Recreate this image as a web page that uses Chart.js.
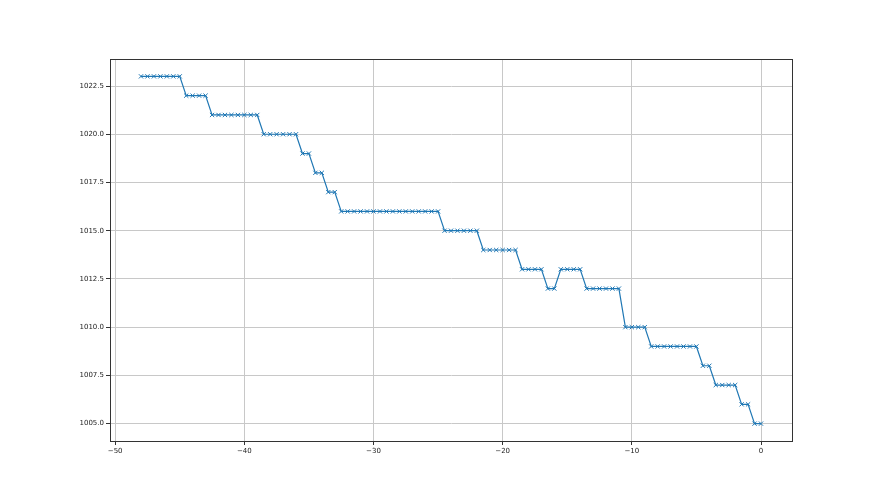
<!DOCTYPE html>
<html>
<head>
<meta charset="utf-8">
<script src="https://cdn.jsdelivr.net/npm/chart.js@4"></script>
<style>
  body { margin: 0; background: #fff; }
  canvas { display: block; }
</style>
</head>
<body>
<canvas id="pressureChart" width="880" height="495"></canvas>
<script>
// hours relative to now
const hours = [-48, -47.5, -47, -46.5, -46, -45.5, -45, -44.5, -44, -43.5, -43, -42.5, -42, -41.5, -41, -40.5,
  -40, -39.5, -39, -38.5, -38, -37.5, -37, -36.5, -36, -35.5, -35, -34.5, -34, -33.5, -33, -32.5,
  -32, -31.5, -31, -30.5, -30, -29.5, -29, -28.5, -28, -27.5, -27, -26.5, -26, -25.5, -25, -24.5,
  -24, -23.5, -23, -22.5, -22, -21.5, -21, -20.5, -20, -19.5, -19, -18.5, -18, -17.5, -17, -16.5,
  -16, -15.5, -15, -14.5, -14, -13.5, -13, -12.5, -12, -11.5, -11, -10.5, -10, -9.5, -9, -8.5,
  -8, -7.5, -7, -6.5, -6, -5.5, -5, -4.5, -4, -3.5, -3, -2.5, -2, -1.5, -1, -0.5, 0];

const pressure = [1023, 1023, 1023, 1023, 1023, 1023, 1023,
  1022, 1022, 1022, 1022,
  1021, 1021, 1021, 1021, 1021, 1021, 1021, 1021,
  1020, 1020, 1020, 1020, 1020, 1020,
  1019, 1019, 1018, 1018, 1017, 1017,
  1016, 1016, 1016, 1016, 1016, 1016, 1016, 1016, 1016, 1016, 1016, 1016, 1016, 1016, 1016, 1016,
  1015, 1015, 1015, 1015, 1015, 1015,
  1014, 1014, 1014, 1014, 1014, 1014,
  1013, 1013, 1013, 1013,
  1012, 1012,
  1013, 1013, 1013, 1013,
  1012, 1012, 1012, 1012, 1012, 1012,
  1010, 1010, 1010, 1010,
  1009, 1009, 1009, 1009, 1009, 1009, 1009, 1009,
  1008, 1008,
  1007, 1007, 1007, 1007,
  1006, 1006,
  1005, 1005];

const xTicks = [-50, -40, -30, -20, -10, 0];
const yTicks = [1005.0, 1007.5, 1010.0, 1012.5, 1015.0, 1017.5, 1020.0, 1022.5];

const frame = {
  id: 'frame',
  afterDraw(chart) {
    const { ctx, chartArea: a } = chart;
    ctx.save();
    ctx.strokeStyle = '#333';
    ctx.lineWidth = 1;
    ctx.strokeRect(a.left + 0.5, a.top + 0.5, a.right - a.left, a.bottom - a.top);
    ctx.restore();
  }
};

const ctx = document.getElementById('pressureChart').getContext('2d');
new Chart(ctx, {
  type: 'line',
  data: {
    datasets: [{
      data: hours.map((h, i) => ({ x: h, y: pressure[i] })),
      borderColor: '#1f77b4',
      backgroundColor: '#1f77b4',
      borderWidth: 1.2,
      tension: 0,
      pointStyle: 'crossRot',
      pointRadius: 3,
      pointBorderWidth: 1,
      pointBorderColor: '#1f77b4'
    }]
  },
  options: {
    responsive: false,
    animation: false,
    layout: { padding: { top: 59, right: 88, left: 0, bottom: 0 } },
    plugins: { legend: { display: false }, tooltip: { enabled: false } },
    scales: {
      x: {
        type: 'linear',
        min: -50.4,
        max: 2.4,
        afterBuildTicks: s => { s.ticks = xTicks.map(v => ({ value: v })); },
        afterFit: s => { s.height = 54; },
        grid: { color: '#c8c8c8', tickColor: '#333', tickLength: 4 },
        border: { color: '#333' },
        ticks: {
          color: '#222',
          font: { family: 'DejaVu Sans', size: 7 },
          padding: 2,
          maxRotation: 0,
          callback: v => String(v).replace('-', '\u2212')
        }
      },
      y: {
        min: 1004.1,
        max: 1023.9,
        afterBuildTicks: s => { s.ticks = yTicks.map(v => ({ value: v })); },
        afterFit: s => { s.width = 110; },
        grid: { color: '#c8c8c8', tickColor: '#333', tickLength: 4 },
        border: { color: '#333' },
        ticks: {
          color: '#222',
          font: { family: 'DejaVu Sans', size: 7 },
          padding: 2,
          callback: v => v.toFixed(1)
        }
      }
    }
  },
  plugins: [frame]
});
</script>
</body>
</html>
